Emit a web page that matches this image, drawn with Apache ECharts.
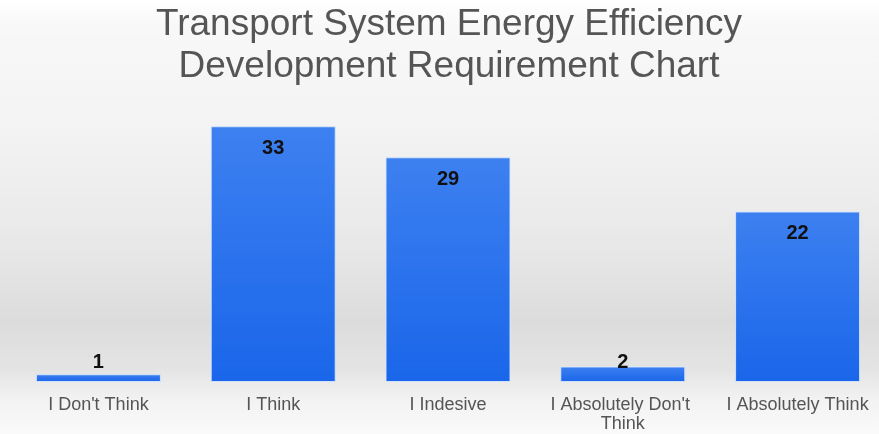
<!DOCTYPE html>
<html>
<head>
<meta charset="utf-8">
<script src="https://cdn.jsdelivr.net/npm/echarts@6/dist/echarts.min.js"></script>
<style>html,body{margin:0;padding:0;background:#fff}#c{width:879px;height:434px}</style>
</head>
<body>
<div id="c"></div>
<script>
var titleText = "Transport System Energy Efficiency\nDevelopment Requirement Chart";
var categories = ["I Don't Think", "I Think", "I Indesive", "I Absolutely Don't Think", "I Absolutely Think"];
var values = [1, 33, 29, 2, 22];

var chart = echarts.init(document.getElementById('c'));
chart.setOption({
  animation: false,
  backgroundColor: {
    type: 'linear', x: 0, y: 0, x2: 0, y2: 1,
    colorStops: [
      {offset: 0, color: '#ffffff'},
      {offset: 0.06, color: '#f8f8f8'},
      {offset: 0.3, color: '#f3f3f3'},
      {offset: 0.58, color: '#e7e7e7'},
      {offset: 0.74, color: '#dcdcdc'},
      {offset: 0.85, color: '#e4e4e4'},
      {offset: 0.92, color: '#f2f2f2'},
      {offset: 1, color: '#fafafa'}
    ]
  },
  title: {
    text: titleText,
    left: 449,
    textAlign: 'center',
    top: -1,
    padding: [5, 0, 5, 0],
    textStyle: {
      color: '#555555',
      fontFamily: 'Liberation Sans, Arial, sans-serif',
      fontWeight: 'normal',
      fontSize: 37,
      lineHeight: 42
    }
  },
  grid: {left: 11, right: -6, top: 72, bottom: 52, containLabel: false, outerBoundsMode: 'none'},
  xAxis: {
    type: 'category',
    data: categories,
    axisLine: {show: false},
    axisTick: {show: false},
    axisLabel: {
      interval: 0,
      margin: 14,
      color: '#555555',
      fontFamily: 'Liberation Sans, Arial, sans-serif',
      fontSize: 18,
      lineHeight: 19,
      width: 160,
      overflow: 'break'
    }
  },
  yAxis: {
    type: 'value',
    min: 0, max: 40,
    show: false,
    splitLine: {show: false}
  },
  series: [{
    type: 'bar',
    data: values,
    barWidth: 125,
    itemStyle: {
      color: {
        type: 'linear', x: 0, y: 0, x2: 0, y2: 1,
        colorStops: [
          {offset: 0, color: '#3d80f0'},
          {offset: 1, color: '#1a66ea'}
        ]
      },
      borderColor: 'rgba(215,232,252,0.9)',
      borderWidth: 1
    },
    label: {
      show: true,
      position: 'insideTop',
      color: '#111111',
      fontFamily: 'Liberation Sans, Arial, sans-serif',
      fontWeight: 'bold',
      fontSize: 20
    },
    labelLayout: function (p) {
      var r = p.rect;
      var cy = Math.min(r.y + 22, r.y + r.height - 20);
      return {x: r.x + r.width / 2, y: cy, align: 'center', verticalAlign: 'middle'};
    }
  }]
});
</script>
</body>
</html>
